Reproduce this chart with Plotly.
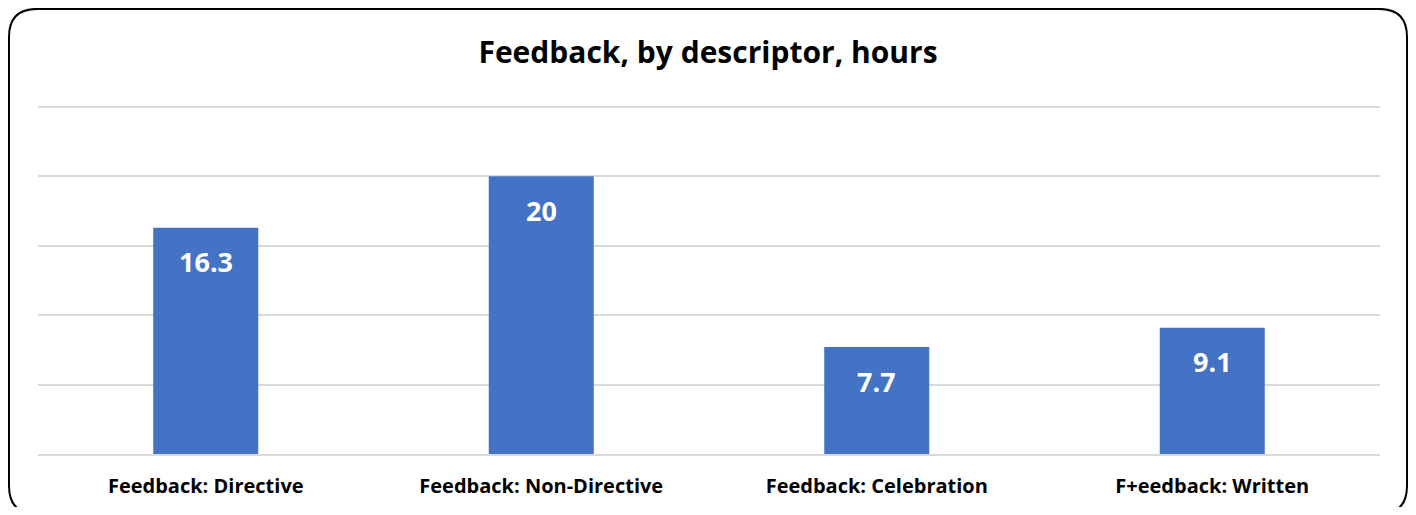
import plotly.graph_objects as go

categories = ["Feedback: Directive", "Feedback: Non-Directive", "Feedback: Celebration", "F+eedback: Written"]
hours = [16.3, 20, 7.7, 9.1]
labels = ["16.3", "20", "7.7", "9.1"]

FONT = "Open Sans"
OFF = 8  # page body margin
W, H = 1416 - 2 * OFF, 515 - 2 * OFF
YMAX = 25.5
# reference pixel geometry (screen coords)
PL, PR, PB = 38, 1380, 454
PT = PB - (PB - 107) * YMAX / 25.0
L, T = PL - OFF, PT - OFF
R = W - (PR - OFF)
B = H - (PB - OFF)
pw, ph = W - L - R, H - T - B

fig = go.Figure()
fig.add_trace(go.Bar(x=categories, y=hours, marker=dict(color="#4472C4", line=dict(width=0)),
                     hoverinfo="x+y"))

for c, v, s in zip(categories, hours, labels):
    fig.add_annotation(x=c, y=v, text="<b>%s</b>" % s, showarrow=False, yanchor="middle",
                       yshift=-34, font=dict(family=FONT, size=27, color="white"))

def px(x):
    return (x - OFF - L) / pw

def py(y):
    return (H - B - (y - OFF)) / ph

x0, x1, y0, y1, r = 9, 1407, 9, 514, 28
path = (f"M {px(x0 + r)},{py(y0)} L {px(x1 - r)},{py(y0)} Q {px(x1)},{py(y0)} {px(x1)},{py(y0 + r)} "
        f"L {px(x1)},{py(y1 - r)} Q {px(x1)},{py(y1)} {px(x1 - r)},{py(y1)} "
        f"L {px(x0 + r)},{py(y1)} Q {px(x0)},{py(y1)} {px(x0)},{py(y1 - r)} "
        f"L {px(x0)},{py(y0 + r)} Q {px(x0)},{py(y0)} {px(x0 + r)},{py(y0)} Z")
fig.add_shape(type="path", path=path, xref="paper", yref="paper",
              line=dict(color="black", width=2), fillcolor="rgba(0,0,0,0)", layer="above")

fig.update_layout(
    width=W, height=H,
    margin=dict(l=L, r=R, t=T, b=B, autoexpand=False),
    paper_bgcolor="white", plot_bgcolor="white",
    title=dict(text="<b>Feedback, by descriptor, hours</b>", x=0.5, xanchor="center",
               y=1 - (52 - OFF) / H, yanchor="middle", automargin=False,
               font=dict(family=FONT, size=30, color="black")),
    bargap=0.687,
    showlegend=False,
    font=dict(family=FONT),
)
fig.update_xaxes(showline=True, linecolor="#d9d9d9", linewidth=2, ticks="", ticklabelstandoff=13,
                 automargin=False,
                 tickfont=dict(family=FONT, size=20, color="black"),
                 tickvals=categories, ticktext=["<b>%s</b>" % c for c in categories])
fig.update_yaxes(range=[0, YMAX], tickvals=[5, 10, 15, 20, 25], showticklabels=False, automargin=False,
                 gridcolor="#d9d9d9", gridwidth=2, zeroline=False, showline=False)

fig.write_html("out.html")
